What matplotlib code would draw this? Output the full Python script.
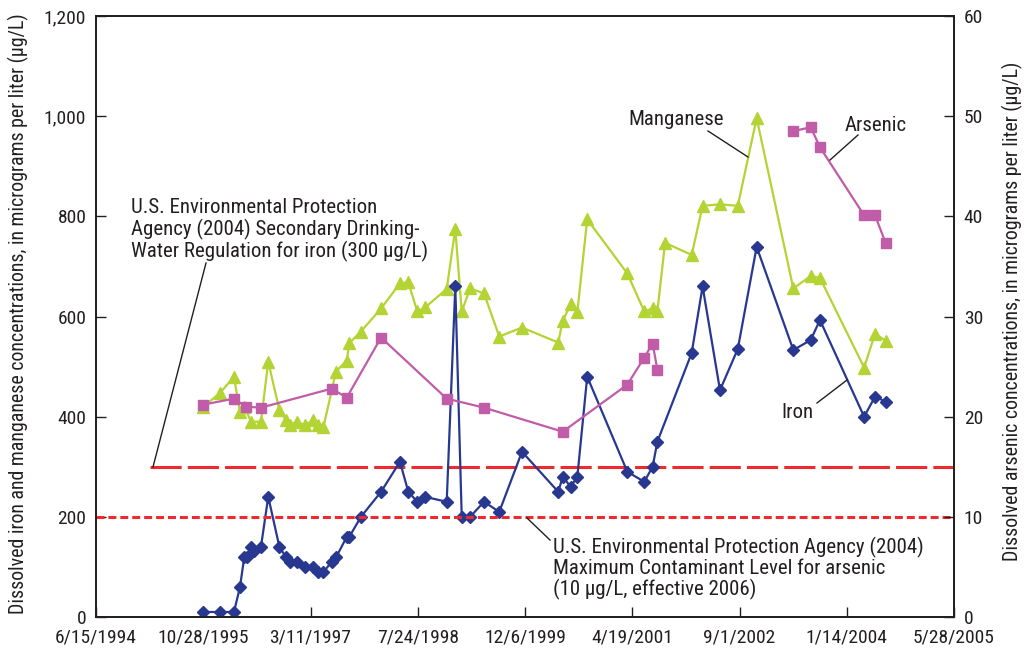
import matplotlib
matplotlib.use("Agg")
import matplotlib.pyplot as plt
from matplotlib import font_manager
from matplotlib.ticker import FuncFormatter
import pandas as pd

# ---------------- data ----------------
iron_dates = ["1995-10-28", "1996-01-14", "1996-03-19", "1996-04-16", "1996-05-06",
              "1996-05-18", "1996-06-07", "1996-06-21", "1996-07-23", "1996-08-26",
              "1996-10-17", "1996-11-17", "1996-12-05", "1997-01-06", "1997-02-13",
              "1997-03-24", "1997-04-16", "1997-05-10", "1997-06-18", "1997-07-08",
              "1997-08-27", "1997-09-08", "1997-11-01", "1998-02-03", "1998-05-02",
              "1998-06-10", "1998-07-22", "1998-08-27", "1998-12-06", "1999-01-15",
              "1999-02-14", "1999-03-25", "1999-05-29", "1999-08-08", "1999-11-22",
              "2000-05-09", "2000-05-30", "2000-07-06", "2000-08-06", "2000-09-21",
              "2001-03-27", "2001-06-14", "2001-07-23", "2001-08-14", "2002-01-21",
              "2002-03-13", "2002-06-02", "2002-08-24", "2002-11-20", "2003-05-10",
              "2003-07-30", "2003-09-11", "2004-04-04", "2004-05-25", "2004-07-14"]
iron_values = [10, 10, 10, 59, 119,
               120, 140, 132, 140, 240,
               140, 119, 110, 110, 100,
               100, 90, 90, 110, 119,
               160, 160, 200, 250, 310,
               250, 230, 240, 230, 660,
               200, 200, 230, 210, 330,
               250, 280, 260, 280, 480,
               290, 270, 300, 350, 527,
               660, 453, 535, 739, 533,
               553, 593, 400, 440, 430]

manganese_dates = ["1995-10-28", "1996-01-14", "1996-03-19", "1996-04-16", "1996-05-06",
                   "1996-06-07", "1996-07-23", "1996-08-26", "1996-10-17", "1996-11-17",
                   "1996-12-05", "1997-01-06", "1997-02-13", "1997-03-24", "1997-04-16",
                   "1997-05-10", "1997-07-08", "1997-08-27", "1997-09-08", "1997-11-01",
                   "1998-02-03", "1998-05-02", "1998-06-10", "1998-07-22", "1998-08-27",
                   "1998-12-06", "1999-01-15", "1999-02-14", "1999-03-25", "1999-05-29",
                   "1999-08-08", "1999-11-22", "2000-05-09", "2000-05-30", "2000-07-06",
                   "2000-08-06", "2000-09-21", "2001-03-27", "2001-06-14", "2001-07-23",
                   "2001-08-14", "2001-09-19", "2002-01-21", "2002-03-13", "2002-06-02",
                   "2002-08-24", "2002-11-20", "2003-05-10", "2003-07-30", "2003-09-11",
                   "2004-04-04", "2004-05-25", "2004-07-14"]
manganese_values = [420, 447, 480, 410, 420,
                    390, 390, 510, 413, 393,
                    383, 390, 383, 393, 383,
                    379, 490, 512, 547, 570,
                    616, 666, 668, 610, 618,
                    655, 775, 610, 656, 646,
                    560, 578, 548, 592, 624,
                    609, 794, 686, 610, 616,
                    610, 747, 723, 821, 824,
                    821, 996, 656, 681, 677,
                    498, 566, 551]

# arsenic sampled in two separate periods (line not connected between them)
arsenic_dates_1 = ["1995-10-28", "1996-03-19", "1996-05-13", "1996-07-23", "1997-06-18",
                   "1997-08-27", "1998-02-03", "1998-12-06", "1999-05-29", "2000-05-30",
                   "2001-03-27", "2001-06-14", "2001-07-23", "2001-08-14"]
arsenic_values_1 = [21.2, 21.8, 21.0, 20.9, 22.8,
                    21.9, 27.9, 21.8, 20.9, 18.5,
                    23.2, 25.9, 27.3, 24.7]
arsenic_dates_2 = ["2003-05-10", "2003-07-30", "2003-09-11", "2004-04-04", "2004-05-25",
                   "2004-07-14"]
arsenic_values_2 = [48.5, 48.9, 46.9, 40.1, 40.1, 37.3]

iron_standard = 300          # µg/L, left axis
arsenic_standard = 10        # µg/L, right axis
iron_std_start = "1995-02-22"

x_ticks = ["1994-06-15", "1995-10-28", "1997-03-11", "1998-07-24", "1999-12-06",
           "2001-04-19", "2002-09-01", "2004-01-14", "2005-05-28"]
left_ticks = [0, 200, 400, 600, 800, 1000, 1200]
right_ticks = [0, 10, 20, 30, 40, 50, 60]

# ---------------- font choice (prefer a condensed face) ----------------
entries = font_manager.fontManager.ttflist
names = {f.name for f in entries}

FAM, STRETCH, SCALE = 'DejaVu Sans', 'normal', 0.80
for fam in ['Liberation Sans Narrow', 'Roboto Condensed', 'Open Sans Condensed',
            'Noto Sans Condensed', 'DejaVu Sans Condensed', 'Arial Narrow']:
    if fam in names:
        FAM, STRETCH, SCALE = fam, 'normal', 1.0
        break
else:
    for fam in ['Noto Sans', 'DejaVu Sans', 'Open Sans', 'Roboto']:
        cond = [f for f in entries if f.name == fam and str(f.stretch) in
                ('condensed', 'semi-condensed', 'extra-condensed')]
        if cond:
            FAM, STRETCH, SCALE = fam, str(cond[0].stretch), 1.0
            break
    else:
        if 'Roboto' in names:
            FAM, STRETCH, SCALE = 'Roboto', 'normal', 0.85

plt.rcParams['font.family'] = [FAM, 'DejaVu Sans']
plt.rcParams['font.stretch'] = STRETCH

# ---------------- style ----------------
C_IRON = '#283891'
C_MN = '#B4D334'
C_AS = '#C05CA8'
C_RED = '#EE2A2E'
C_TXT = '#231F20'

FS_TICK = 14 * SCALE
FS_LAB = 14.3 * SCALE
FS_ANN = 15 * SCALE

W, H = 1024, 650
fig = plt.figure(figsize=(W / 100, H / 100), dpi=100)
ax = fig.add_axes([96 / W, 1 - 617 / H, (954 - 96) / W, (617 - 16) / H])
ax2 = ax.twinx()

td = lambda s: pd.to_datetime(s)

xt = td(x_ticks)
ax.set_xlim(xt[0], xt[-1])
ax.set_ylim(0, 1200)
ax2.set_ylim(0, 60)

# reference lines
ax.plot([td(iron_std_start), xt[-1]], [iron_standard] * 2, color=C_RED, lw=2.2,
        dashes=(10.2, 2.0), zorder=1.5, dash_capstyle='butt')
ax2.plot([xt[0], xt[-1]], [arsenic_standard] * 2, color=C_RED, lw=2.2,
         dashes=(2.6, 1.3), zorder=1.5, dash_capstyle='butt')

# series
ax.plot(td(manganese_dates), manganese_values, color=C_MN, lw=1.6, marker='^',
        ms=9, mec=C_MN, mfc=C_MN, zorder=3)
ax.plot(td(iron_dates), iron_values, color=C_IRON, lw=1.6, marker='D',
        ms=5.8, mec=C_IRON, mfc=C_IRON, zorder=4)
ax2.plot(td(arsenic_dates_1), arsenic_values_1, color=C_AS, lw=1.6, marker='s',
         ms=7.8, mec=C_AS, mfc=C_AS, zorder=5)
ax2.plot(td(arsenic_dates_2), arsenic_values_2, color=C_AS, lw=1.6, marker='s',
         ms=7.8, mec=C_AS, mfc=C_AS, zorder=5)

# ticks
ax.set_xticks(xt)
ax.set_xticklabels([f"{d.month}/{d.day}/{d.year}" for d in xt])
ax.set_yticks(left_ticks)
ax.yaxis.set_major_formatter(FuncFormatter(lambda v, p: f"{int(v):,}"))
ax2.set_yticks(right_ticks)

for a in (ax, ax2):
    a.tick_params(direction='in', length=7, width=1.0, colors=C_TXT,
                  labelsize=FS_TICK, pad=7)
    for s in a.spines.values():
        s.set_linewidth(1.3)
        s.set_color(C_TXT)
ax.tick_params(axis='x', pad=8)

ax.set_ylabel("Dissolved iron and manganese concentrations, in micrograms per liter (µg/L)",
              fontsize=FS_LAB, color=C_TXT)
ax.yaxis.set_label_coords((29 - 96) / 858, 0.505)
ax2.set_ylabel("Dissolved arsenic concentrations, in micrograms per liter (µg/L)",
               fontsize=FS_LAB, color=C_TXT, rotation=90)
ax2.yaxis.set_label_coords((1002 - 96) / 858, 0.508)

# annotations (figure pixel coordinates)
def ftext(x, y, s, **kw):
    fig.text(x / W, 1 - y / H, s, fontsize=FS_ANN, color=C_TXT, ha='left',
             va='baseline', **kw)

def fline(x0, y0, x1, y1):
    fig.add_artist(plt.Line2D([x0 / W, x1 / W], [1 - y0 / H, 1 - y1 / H],
                              color=C_TXT, lw=1.0, transform=fig.transFigure))

ftext(628, 125, "Manganese")
ftext(845, 131, "Arsenic")
ftext(781, 418, "Iron")
fline(708, 131, 748, 157)
fline(858, 135, 830, 160)
fline(817, 403, 847, 380)

for i, s in enumerate(["U.S. Environmental Protection",
                       "Agency (2004) Secondary Drinking-",
                       "Water Regulation for iron (300 µg/L)"]):
    ftext(131, 213 + 22 * i, s)
fline(206, 263, 153, 467)

for i, s in enumerate(["U.S. Environmental Protection Agency (2004)",
                       "Maximum Contaminant Level for arsenic",
                       "(10 µg/L, effective 2006)"]):
    ftext(553, 553 + 21 * i, s)
fline(527, 518, 550, 540)

fig.savefig("out.png", dpi=100)
